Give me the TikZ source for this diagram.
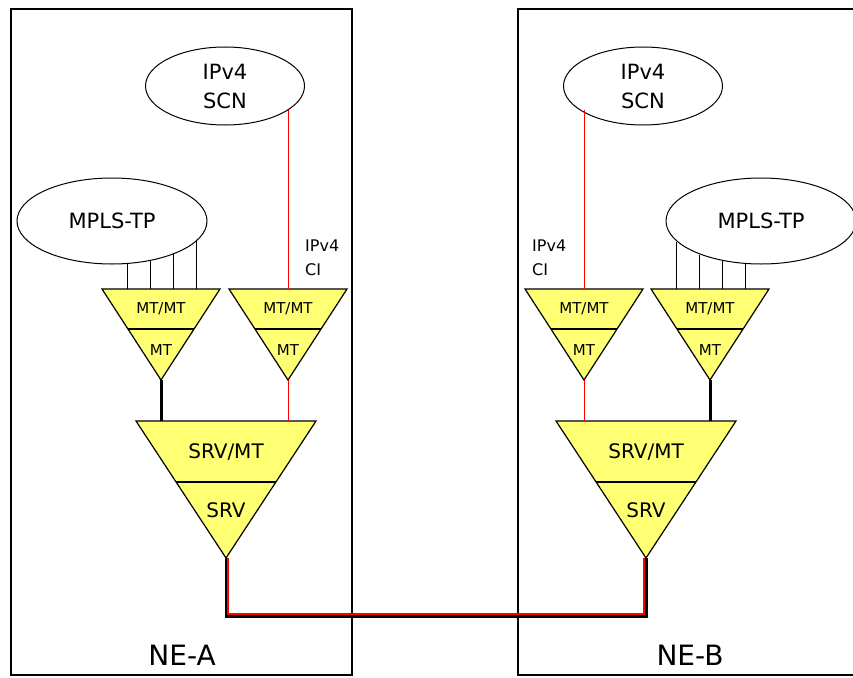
\documentclass[tikz,border=0pt]{standalone}
\usepackage{fontspec}
\setmainfont{DejaVu Sans}
\usetikzlibrary{shapes.geometric,calc}
\definecolor{adaptyellow}{RGB}{255,255,115}
\tikzset{
    cloud/.style={ellipse, draw, line width=1pt, inner sep=0pt, align=center, font=\fontsize{21}{29}\selectfont},
    adapt/.style={draw, line width=1.2pt, fill=adaptyellow, line join=miter},
    lbl/.style={inner sep=0pt, font=\fontsize{15}{18}\selectfont},
    biglbl/.style={inner sep=0pt, font=\fontsize{20}{24}\selectfont},
    ci/.style={inner sep=0pt, anchor=north west, align=left, font=\fontsize{16}{24}\selectfont},
    ne/.style={inner sep=0pt, font=\fontsize{28}{32}\selectfont},
    thin link/.style={line width=0.9pt},
    ci link/.style={red, line width=0.9pt},
    thick link/.style={line width=3pt}
}
\begin{document}
\begin{tikzpicture}[x=1pt,y=-1pt]
    \useasboundingbox (0,0) rectangle (853,677);
    % network elements
    \draw[line width=2pt] (11,9) rectangle (352,675);
    \draw[line width=2pt] (518,9) rectangle (858,675);
    \node[ne] (neA) at (182,655) {NE-A};
    \node[ne] (neB) at (690,655) {NE-B};
    % clouds
    \node[cloud, minimum width=159, minimum height=78] (scnA) at (225,86) {IPv4\\SCN};
    \node[cloud, minimum width=159, minimum height=78] (scnB) at (643,86) {IPv4\\SCN};
    \node[cloud, minimum width=190, minimum height=86] (mplsA) at (112,221) {MPLS-TP};
    \node[cloud, minimum width=190, minimum height=86] (mplsB) at (761,221) {MPLS-TP};
    % MT/MT adaptations
    \foreach \n/\cx in {mtA/161, ciA/288, ciB/584, mtB/710}{
        \draw[adapt] (\cx-59,289) -- (\cx+59,289) -- (\cx,380) -- cycle;
        \draw[line width=1.2pt] (\cx-33,329) -- (\cx+33,329);
        \node[lbl] (\n-hi) at (\cx,309) {MT/MT};
        \node[lbl] (\n-lo) at (\cx,350) {MT};
        \coordinate (\n-top) at (\cx,289);
        \coordinate (\n-bot) at (\cx,380);
    }
    % SRV/MT adaptations
    \foreach \n/\cx in {srvA/226, srvB/646}{
        \draw[adapt] (\cx-90,421) -- (\cx+90,421) -- (\cx,558) -- cycle;
        \draw[line width=1.2pt] (\cx-50,482) -- (\cx+50,482);
        \node[biglbl] (\n-hi) at (\cx,452) {SRV/MT};
        \node[biglbl] (\n-lo) at (\cx,510) {SRV};
        \coordinate (\n-top) at (\cx,421);
        \coordinate (\n-bot) at (\cx,558);
    }
    % MPLS-TP access points
    \foreach \d/\a in {-34/-70.6, -11/-46, 12/-28.4, 35/-13.5}
        \draw[thin link] ([xshift=\d]mtA-top) -- ([xshift=\d]mtA-top |- mplsA.\a);
    \foreach \d/\a in {-34/-166.5, -11/-151, 12/-133, 35/-109}
        \draw[thin link] ([xshift=\d]mtB-top) -- ([xshift=\d]mtB-top |- mplsB.\a);
    % IPv4 control interfaces
    \draw[ci link] (ciA-top) -- (ciA-top |- scnA.-21);
    \draw[ci link] (ciB-top) -- (ciB-top |- scnB.-159);
    \node[ci] (ciA-txt) at (305,240) {IPv4\\CI};
    \node[ci] (ciB-txt) at (532,240) {IPv4\\CI};
    \draw[ci link] (ciA-bot) -- (ciA-bot |- srvA-top);
    \draw[ci link] (ciB-bot) -- (ciB-bot |- srvB-top);
    \draw[thick link] (mtA-bot) -- (mtA-bot |- srvA-top);
    \draw[thick link] (mtB-bot) -- (mtB-bot |- srvB-top);
    % server link between NE-A and NE-B
    \coordinate (linkA) at (226,616);
    \coordinate (linkB) at (646,616);
    \draw[thick link, line join=miter] (srvA-bot) -- (linkA) -- (linkB) -- (srvB-bot);
    \draw[red, line width=1.2pt] ([xshift=2]srvA-bot) -- ([shift={(2,-2)}]linkA) -- ([shift={(-2,-2)}]linkB) -- ([xshift=-2]srvB-bot);
\end{tikzpicture}
\end{document}
